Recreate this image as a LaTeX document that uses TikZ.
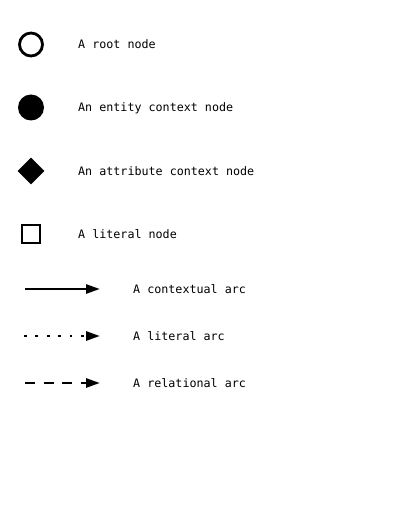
\documentclass[tikz,border=0pt]{standalone}
\usepackage{fontspec}
\setmonofont{DejaVu Sans Mono}
\usetikzlibrary{arrows.meta,shapes.geometric}
\begin{document}
\begin{tikzpicture}[x=1pt,y=-1pt,
  lbl/.style={anchor=base west,inner sep=0pt,font=\ttfamily\fontsize{11.7}{14}\selectfont},
  rootnode/.style={circle,draw,line width=2.8pt,minimum size=23pt,inner sep=0pt},
  entnode/.style={circle,fill,minimum size=26pt,inner sep=0pt},
  attnode/.style={diamond,fill,minimum size=27pt,inner sep=0pt},
  litnode/.style={rectangle,draw,line width=2.8pt,minimum size=18pt,inner sep=0pt},
  arc/.style={line width=2.7pt,-{Triangle[length=14pt,width=9pt]}},
  ctxarc/.style={arc},
  litarc/.style={arc,dash pattern=on 2.7pt off 8.7pt},
  relarc/.style={arc,dash pattern=on 10pt off 8.5pt}]
\useasboundingbox (0,0) rectangle (400,518);
\node[rootnode] (n1) at (31,44.5) {};
\node[lbl] (l1) at (78,49) {A root node};
\node[entnode] (n2) at (31,107.5) {};
\node[lbl] (l2) at (78,112) {An entity context node};
\node[attnode] (n3) at (31,171) {};
\node[lbl] (l3) at (78,175.5) {An attribute context node};
\node[litnode] (n4) at (31,234) {};
\node[lbl] (l4) at (78,238.5) {A literal node};
\coordinate (a1s) at (25,289); \coordinate (a1e) at (100,289);
\coordinate (a2s) at (24,336); \coordinate (a2e) at (100,336);
\coordinate (a3s) at (25,383); \coordinate (a3e) at (100,383);
\draw[ctxarc] (a1s) -- (a1e);
\draw[litarc] (a2s) -- (a2e);
\draw[relarc] (a3s) -- (a3e);
\node[lbl] (l5) at (133,293.5) {A contextual arc};
\node[lbl] (l6) at (133,340.5) {A literal arc};
\node[lbl] (l7) at (133,387.5) {A relational arc};
\end{tikzpicture}
\end{document}
